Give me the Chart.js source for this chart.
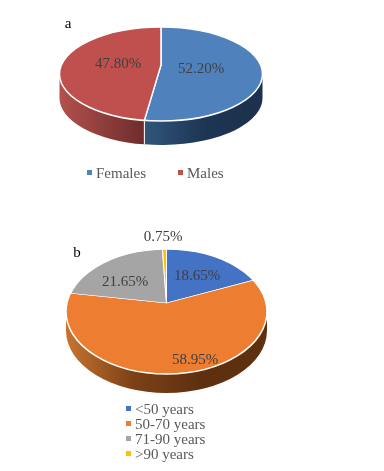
<!DOCTYPE html>
<html>
<head>
<meta charset="utf-8">
<script src="https://cdn.jsdelivr.net/npm/chart.js@4/dist/chart.umd.min.js"></script>
<style>
  html, body { margin: 0; padding: 0; background: #fff; }
  #page { position: relative; width: 384px; height: 471px; overflow: hidden; }
  canvas { position: absolute; left: 0; }
  .legend { position: absolute; font: 15px "Liberation Serif", serif; color: #595959; }
  .legend span { position: absolute; white-space: nowrap; }
  .legend i { position: absolute; width: 5px; height: 5px; }
</style>
</head>
<body>
<div id="page">
  <canvas id="chartA" width="384" height="190" style="top:0"></canvas>
  <canvas id="chartB" width="384" height="281" style="top:190px"></canvas>
  <div id="legendA" class="legend"></div>
  <div id="legendB" class="legend"></div>
</div>
<script>
// chart a: sex
const sexLabels = ['Females', 'Males'];
const sexValues = [52.20, 47.80];
const sexText = ['52.20%', '47.80%'];

// chart b: age groups
const ageLabels = ['<50 years', '50-70 years', '71-90 years', '>90 years'];
const ageValues = [18.65, 58.95, 21.65, 0.75];
const ageText = ['18.65%', '58.95%', '21.65%', '0.75%'];

// Where a slice edge leaving the apex at this angle meets the disc rim,
// given as an angle on the rim ellipse. The apex sits above the rim centre (perspective).
function rimAngle(angle, o) {
  const ay = (o.apexY - o.cy) / o.ry;
  const dx = Math.cos(angle);
  const dy = Math.sin(angle);
  const b = ay * dy;
  const t = -b + Math.sqrt(b * b - (ay * ay - 1));
  let r = Math.atan2(ay + t * dy, t * dx);
  if (angle > Math.PI / 2 && r < 0) r += Math.PI * 2;
  return r;
}

// Draws the flat pie as a tilted disc: squashes the arcs, clips them to the rim and adds a wall below.
const tiltPlugin = {
  id: 'tilt',
  beforeDatasetDraw(chart, args, opts) {
    const ctx = chart.ctx;
    const arcs = chart.getDatasetMeta(0).data;
    // side wall, only the front half of the disc shows
    arcs.forEach((arc, i) => {
      const a1 = Math.max(rimAngle(arc.startAngle, opts), 0);
      const a2 = Math.min(rimAngle(arc.endAngle, opts), Math.PI);
      if (a2 <= a1 || !opts.wall[i]) return;
      const x1 = opts.cx + opts.rx * Math.cos(a1);
      const x2 = opts.cx + opts.rx * Math.cos(a2);
      const grad = ctx.createLinearGradient(Math.min(x1, x2), 0, Math.max(x1, x2), 0);
      opts.wall[i].forEach((c, k) => grad.addColorStop(k / (opts.wall[i].length - 1), c));
      ctx.beginPath();
      ctx.ellipse(opts.cx, opts.cy, opts.rx, opts.ry, 0, a1, a2);
      ctx.ellipse(opts.cx, opts.cy + opts.depth, opts.rx, opts.ry, 0, a2, a1, true);
      ctx.closePath();
      ctx.fillStyle = grad;
      ctx.fill();
      if (a1 > 0) {
        ctx.strokeStyle = '#fff';
        ctx.lineWidth = 1;
        ctx.beginPath();
        ctx.moveTo(x1, opts.cy + opts.ry * Math.sin(a1));
        ctx.lineTo(x1, opts.cy + opts.ry * Math.sin(a1) + opts.depth);
        ctx.stroke();
      }
    });
    const first = arcs[0];
    const grow = 1.4; // arcs overshoot the rim and get clipped to it
    ctx.save();
    ctx.beginPath();
    ctx.ellipse(opts.cx, opts.cy, opts.rx, opts.ry, 0, 0, Math.PI * 2);
    ctx.clip();
    ctx.translate(opts.cx, opts.apexY);
    ctx.scale(grow * opts.rx / first.outerRadius, grow * opts.ry / first.outerRadius);
    ctx.translate(-first.x, -first.y);
  },
  afterDatasetDraw(chart, args, opts) {
    const ctx = chart.ctx;
    ctx.restore();
    ctx.save();
    ctx.strokeStyle = '#fff';
    ctx.lineWidth = 1.5;
    ctx.beginPath();
    ctx.ellipse(opts.cx, opts.cy, opts.rx, opts.ry, 0, 0, Math.PI * 2);
    ctx.stroke();
    // percent labels and panel letter
    ctx.font = '15px "Liberation Serif", serif';
    ctx.textAlign = 'center';
    ctx.textBaseline = 'middle';
    ctx.fillStyle = '#404040';
    opts.text.forEach((t, i) => ctx.fillText(t, opts.textPos[i][0], opts.textPos[i][1]));
    ctx.fillStyle = '#000';
    ctx.fillText(opts.letter, opts.letterPos[0], opts.letterPos[1]);
    ctx.restore();
  }
};

function makePie(id, labels, values, colors, tilt) {
  return new Chart(document.getElementById(id), {
    type: 'pie',
    data: {
      labels: labels,
      datasets: [{ data: values, backgroundColor: colors, borderColor: '#fff', borderWidth: 1, clip: false }]
    },
    options: {
      responsive: false,
      animation: false,
      plugins: { legend: { display: false }, tooltip: { enabled: false }, tilt: tilt }
    },
    plugins: [tiltPlugin]
  });
}

function makeLegend(id, labels, colors, spots) {
  const box = document.getElementById(id);
  labels.forEach((name, i) => {
    const mark = document.createElement('i');
    mark.style.left = spots[i][0] + 'px';
    mark.style.top = (spots[i][1] - 3) + 'px';
    mark.style.background = colors[i];
    const text = document.createElement('span');
    text.textContent = name;
    text.style.left = (spots[i][0] + 9) + 'px';
    text.style.top = (spots[i][1] - 8) + 'px';
    box.appendChild(mark);
    box.appendChild(text);
  });
}

const sexColors = ['#4f81bd', '#c0504d'];
const ageColors = ['#4472c4', '#ed7d31', '#a5a5a5', '#ffc000'];

makePie('chartA', sexLabels, sexValues, sexColors, {
  cx: 161, cy: 74, rx: 101.5, ry: 47, apexY: 65, depth: 24,
  wall: [['#31567c', '#1d3653', '#1b314d'], ['#b3504d', '#8f3f3c', '#6e2c2b']],
  text: sexText, textPos: [[201, 69], [118, 64]],
  letter: 'a', letterPos: [68, 24]
});

makePie('chartB', ageLabels, ageValues, ageColors, {
  cx: 166.5, cy: 121.5, rx: 100.5, ry: 62.5, apexY: 113, depth: 19,
  wall: [null, ['#c87430', '#7c4116', '#5f3010', '#5f3010'], null, null],
  text: ageText, textPos: [[197, 86], [195, 170], [125, 92], [163, 47]],
  letter: 'b', letterPos: [77, 63]
});

makeLegend('legendA', sexLabels, sexColors, [[87, 173], [178, 173]]);
makeLegend('legendB', ageLabels, ageColors, [[126, 409], [126, 424], [126, 439], [126, 454]]);
</script>
</body>
</html>
